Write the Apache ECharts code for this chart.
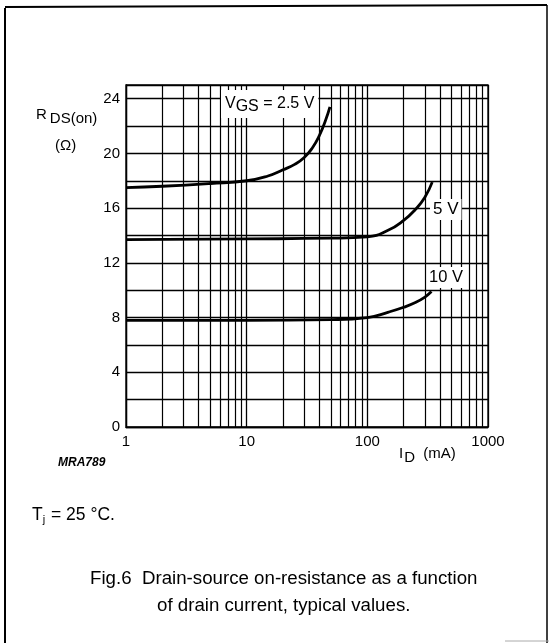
<!DOCTYPE html>
<html>
<head>
<meta charset="utf-8">
<script src="https://cdn.jsdelivr.net/npm/echarts@6/dist/echarts.min.js"></script>
<style>
  html, body { margin: 0; padding: 0; background: #fff; }
  #chart { width: 549px; height: 643px; }
</style>
</head>
<body>
<div id="chart"></div>
<script>
// drain current (mA) and on-resistance (ohm) per gate voltage
const idVgs25 = [1, 2, 5, 10, 15, 20, 25, 30, 35, 40, 45, 49];
const rdsVgs25 = [17.5, 17.6, 17.8, 18.0, 18.35, 18.8, 19.2, 19.7, 20.4, 21.3, 22.4, 23.4];
const idVgs5 = [1, 10, 50, 100, 150, 200, 250, 300, 345];
const rdsVgs5 = [13.7, 13.75, 13.8, 13.9, 14.4, 15.1, 15.9, 16.8, 17.9];
const idVgs10 = [1, 10, 50, 100, 150, 200, 250, 300, 340];
const rdsVgs10 = [7.8, 7.8, 7.85, 8.0, 8.4, 8.75, 9.1, 9.5, 9.9];
// minor log grid lines (2..9 in each decade)
const minorGrid = [2, 3, 4, 5, 6, 7, 8, 9, 20, 30, 40, 50, 60, 70, 80, 90, 200, 300, 400, 500, 600, 700, 800, 900];
const yLabelTicks = [0, 4, 8, 12, 16, 20, 24];

const pairs = (xs, ys) => xs.map((x, i) => [x, ys[i]]);
const font = 'Arial, "Liberation Sans", Helvetica, sans-serif';

const chart = echarts.init(document.getElementById('chart'), null, { renderer: 'canvas' });

const curve = (name, xs, ys) => ({
  name: name,
  type: 'line',
  smooth: true,
  symbol: 'none',
  lineStyle: { color: '#000', width: 2.8 },
  data: pairs(xs, ys),
  z: 5
});

const option = {
  backgroundColor: '#fff',
  animation: false,
  grid: {
    left: 126, right: 61, top: 85, bottom: 216,
    show: true, borderColor: '#000', borderWidth: 1.3
  },
  xAxis: {
    type: 'log',
    logBase: 10,
    min: 1,
    max: 1000,
    axisLine: { show: true, lineStyle: { color: '#000', width: 1.3 } },
    axisTick: { show: false },
    splitLine: { show: true, lineStyle: { color: '#000', width: 1.3 } },
    axisLabel: { color: '#000', fontSize: 15, fontFamily: font, margin: 7, formatter: v => String(v) }
  },
  yAxis: {
    type: 'value',
    min: 0,
    max: 25,
    interval: 2,
    axisLine: { show: true, lineStyle: { color: '#000', width: 1.3 } },
    axisTick: { show: false },
    splitLine: { show: true, lineStyle: { color: '#000', width: 1.3 } },
    axisLabel: {
      color: '#000', fontSize: 15, fontFamily: font, margin: 6,
      formatter: v => (yLabelTicks.indexOf(v) >= 0 ? String(v) : '')
    }
  },
  series: [
    {
      // minor vertical grid lines
      type: 'line',
      data: [],
      silent: true,
      markLine: {
        silent: true,
        symbol: 'none',
        label: { show: false },
        lineStyle: { color: '#000', width: 1.2, type: 'solid' },
        data: minorGrid.map(v => ({ xAxis: v }))
      }
    },
    curve('2.5 V', idVgs25, rdsVgs25),
    curve('5 V', idVgs5, rdsVgs5),
    curve('10 V', idVgs10, rdsVgs10)
  ],
  graphic: [
    // figure frame
    { type: 'line', shape: { x1: 5, y1: 8, x2: 5, y2: 643 }, style: { stroke: '#000', lineWidth: 2 } },
    { type: 'line', shape: { x1: 5, y1: 7, x2: 547, y2: 5 }, style: { stroke: '#000', lineWidth: 2 } },
    { type: 'line', shape: { x1: 547, y1: 5, x2: 547, y2: 643 }, style: { stroke: '#000', lineWidth: 1.5 } },
    { type: 'line', shape: { x1: 505, y1: 641, x2: 549, y2: 641 }, style: { stroke: '#aaa', lineWidth: 1 } },
    // curve labels
    {
      type: 'text', left: 221, top: 90, z: 10,
      style: {
        text: '{v|V}{s|GS}{v| = 2.5 V}',
        backgroundColor: '#fff', padding: [2, 4, 3, 4],
        rich: {
          v: { fontSize: 16, fontFamily: font, fill: '#000' },
          s: { fontSize: 16, fontFamily: font, fill: '#000', padding: [7, 0, 0, 0] }
        }
      }
    },
    {
      type: 'text', left: 430, top: 199, z: 10,
      style: { text: '5 V', font: '17px ' + font, fill: '#000', backgroundColor: '#fff', padding: [2, 3, 2, 3] }
    },
    {
      type: 'text', left: 427, top: 267, z: 10,
      style: { text: '10 V', font: '16.5px ' + font, fill: '#000', backgroundColor: '#fff', padding: [2, 2, 2, 2] }
    },
    // y axis title
    {
      type: 'text', left: 36, top: 107,
      style: {
        text: '{v|R}{s|DS(on)}',
        rich: {
          v: { fontSize: 15, fontFamily: font, fill: '#000' },
          s: { fontSize: 15, fontFamily: font, fill: '#000', padding: [9, 0, 0, 3] }
        }
      }
    },
    { type: 'text', left: 55, top: 138, style: { text: '(\u03A9)', font: '15px ' + font, fill: '#000' } },
    // x axis title
    {
      type: 'text', left: 399, top: 446,
      style: {
        text: '{v|I}{s|D}{v|  (mA)}',
        rich: {
          v: { fontSize: 15, fontFamily: font, fill: '#000' },
          s: { fontSize: 15, fontFamily: font, fill: '#000', padding: [8, 0, 0, 1] }
        }
      }
    },
    { type: 'text', left: 58, top: 457, style: { text: 'MRA789', font: 'italic bold 12px ' + font, fill: '#000' } },
    // notes
    {
      type: 'text', left: 32, top: 506,
      style: {
        text: '{v|T}{s|j}{v| = 25 \u00B0C.}',
        rich: {
          v: { fontSize: 17.5, fontFamily: font, fill: '#000' },
          s: { fontSize: 11, fontFamily: font, fill: '#000', padding: [10, 1, 0, 0] }
        }
      }
    },
    {
      type: 'text', left: 90, top: 569,
      style: { text: 'Fig.6  Drain-source on-resistance as a function', font: '18.7px ' + font, fill: '#000' }
    },
    {
      type: 'text', left: 157, top: 596,
      style: { text: 'of drain current, typical values.', font: '18.7px ' + font, fill: '#000' }
    }
  ]
};

chart.setOption(option);
</script>
</body>
</html>
